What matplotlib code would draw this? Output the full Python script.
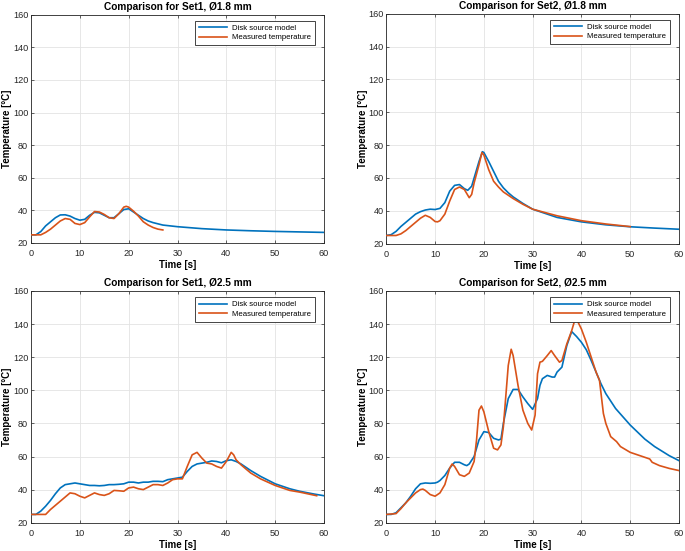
import matplotlib
matplotlib.use("Agg")
import matplotlib.pyplot as plt

plt.rcParams['font.family'] = ['Liberation Sans', 'DejaVu Sans']

BLUE = '#0072BD'
ORANGE = '#D95319'

# ---- Set1, 1.8 mm ----
s1a_t_model = [0, 1, 2, 3, 4, 5, 6, 7, 8, 9, 10, 11, 12, 13, 14, 15, 16, 17, 18, 19, 20, 21, 22, 23, 24, 25, 27, 30, 35, 40, 45, 50, 55, 60]
s1a_model = [25, 25, 27, 30.5, 33, 35.5, 37.2, 37.3, 36.5, 35, 34, 34.5, 37, 38.8, 38.5, 37, 35.5, 35.5, 38, 40.5, 41, 39, 37, 35, 33.5, 32.5, 31, 30, 28.8, 28, 27.5, 27.1, 26.8, 26.5]
s1a_t_meas = [0, 2, 3, 4, 5, 6, 7, 8, 9, 10, 11, 12, 13, 14, 15, 16, 17, 18, 19, 19.5, 20, 21, 22, 23, 24, 25, 26, 27]
s1a_meas = [25, 25, 26.5, 28.5, 31, 33.5, 35, 34.5, 32, 31.3, 32.5, 36, 39.3, 39, 37.5, 35.5, 35, 38, 42, 42.5, 42, 39.5, 36.5, 33, 31, 29.5, 28.5, 28]

# ---- Set2, 1.8 mm ----
s2a_t_model = [0, 1, 2, 3, 4, 5, 6, 7, 8, 9, 10, 11, 12, 13, 14, 15, 16, 16.7, 17.5, 18, 19, 19.7, 20, 21, 22, 23, 24, 25, 26, 28, 30, 35, 40, 45, 50, 55, 60]
s2a_model = [25, 25.5, 27.5, 30.5, 33, 35.5, 38, 39.5, 40.5, 41, 40.8, 41.5, 45, 52, 55.5, 56, 53.5, 52.5, 55, 60, 70, 76, 75.5, 70, 64, 58, 54, 51, 48.5, 44.5, 41, 36, 33.3, 31.5, 30.3, 29.5, 28.8]
s2a_t_meas = [0, 2, 3, 4, 5, 6, 7, 8, 9, 10, 10.5, 11, 12, 13, 14, 15, 16, 17, 17.5, 18, 19, 19.6, 20, 21, 22, 23, 24, 25, 26, 28, 30, 35, 40, 45, 50]
s2a_meas = [25, 25, 26, 28, 30.5, 33, 35.5, 37.3, 36, 33.5, 33.3, 34, 38, 46, 53, 54.5, 53, 48, 50, 57, 68, 75.5, 74, 65, 58, 54.5, 51.5, 49.5, 47.5, 44, 41, 37, 34, 32, 30.4]

# ---- Set1, 2.5 mm ----
s1b_t_model = [0, 1, 2, 3, 4, 5, 6, 7, 8, 9, 10, 11, 12, 13, 14, 15, 16, 17, 18, 19, 20, 21, 22, 23, 24, 25, 26, 27, 28, 29, 30, 31, 32, 33, 34, 35, 36, 37, 38, 39, 40, 41, 42, 43, 44, 45, 47, 50, 53, 55, 58, 60]
s1b_model = [25, 25, 27, 30, 33.5, 37.5, 41, 43, 43.5, 44, 43.5, 43, 42.5, 42.5, 42.3, 42.5, 43, 43, 43.2, 43.5, 44.5, 44.5, 44, 44.5, 44.5, 45, 45, 44.8, 46, 46.5, 47, 47.5, 51, 54, 55.5, 56, 56.5, 57.3, 57, 56.2, 57.5, 58, 57, 55.5, 53.5, 51.5, 48, 43.5, 40.5, 39, 37.3, 36.3]
s1b_t_meas = [0, 1, 3, 4, 5, 6, 7, 8, 9, 10, 11, 12, 13, 14, 15, 16, 17, 18, 19, 20, 21, 22, 23, 24, 25, 26, 27, 28, 29, 30, 31, 32, 33, 34, 35, 36, 37, 38, 39, 40, 41, 41.5, 42, 43, 44, 45, 47, 50, 53, 55, 58.5]
s1b_meas = [25, 25, 25, 28, 30.5, 33, 35.5, 38, 37.5, 36, 35, 36.5, 38, 37, 36.5, 37.5, 39.5, 39.3, 39, 41, 41.5, 40.5, 40, 41.5, 43, 43, 42.5, 44, 46, 46.5, 46.5, 54, 61, 62.5, 59, 56, 55.5, 54, 53, 57, 62.5, 61, 58, 55, 52.5, 50, 46.5, 42.5, 39.5, 38.5, 36.3]

# ---- Set2, 2.5 mm ----
s2b_t_model = [0, 1, 2, 3, 4, 5, 6, 7, 8, 9, 10, 10.5, 11, 12, 13, 14, 15, 16, 16.5, 17, 18, 19, 20, 21, 22, 23, 23.5, 24, 25, 26, 27, 28, 29, 30, 31, 31.5, 32, 33, 34, 34.5, 35, 36, 37, 38, 39, 40, 41, 42, 43, 44, 45, 47, 50, 53, 55, 58, 60]
s2b_model = [25, 25, 26, 29, 32, 36, 40.5, 43.5, 44, 43.8, 44, 44.5, 45.5, 48.5, 53, 56.5, 56.5, 55, 54.5, 55.5, 60, 70, 75, 74.5, 71, 70, 70.5, 80, 95, 100.5, 100.5, 96, 92, 88.5, 95, 103, 107, 109, 108, 108, 111, 114, 127, 135.5, 132.5, 129, 124.5, 118, 111, 104, 98, 89, 79, 70.5, 66, 60.5, 57.5]
s2b_t_meas = [0, 2, 3, 4, 5, 6, 7, 7.5, 8, 9, 10, 11, 12, 13, 13.5, 14, 15, 16, 17, 18, 18.5, 19, 19.5, 20, 21, 22, 22.8, 23.5, 24, 25, 25.6, 26, 27, 28, 29, 29.8, 30.5, 31, 31.5, 32, 33, 33.8, 34.5, 35.5, 36, 37, 38, 38.5, 39, 40, 41, 42, 43, 43.7, 44.5, 45, 46, 47.2, 48, 50, 52, 54, 54.5, 56, 58, 60]
s2b_meas = [25, 25.5, 28.5, 32, 35, 38, 40, 40.3, 39.5, 37, 36, 38, 43, 53, 55.5, 54, 49, 48, 50, 57, 70, 88, 90.5, 87, 75, 65, 64, 67, 78, 115, 124.8, 121, 103, 88, 80, 76, 85, 110, 117, 117.5, 121, 124, 121, 117, 118, 128, 136, 141, 143, 137, 129, 120, 111, 106, 86, 80, 72, 69, 66, 62.5, 60.5, 58.5, 56.5, 54.5, 52.8, 51.5]

titles = ['Comparison for Set1, Ø1.8 mm', 'Comparison for Set2, Ø1.8 mm',
          'Comparison for Set1, Ø2.5 mm', 'Comparison for Set2, Ø2.5 mm']
legend_labels = ['Disk source model', 'Measured temperature']
xticks = [0, 10, 20, 30, 40, 50, 60]
yticks = [20, 40, 60, 80, 100, 120, 140, 160]

panels = [
    (s1a_t_model, s1a_model, s1a_t_meas, s1a_meas),
    (s2a_t_model, s2a_model, s2a_t_meas, s2a_meas),
    (s1b_t_model, s1b_model, s1b_t_meas, s1b_meas),
    (s2b_t_model, s2b_model, s2b_t_meas, s2b_meas),
]

W, H = 685, 551
fig = plt.figure(figsize=(W / 100, H / 100), dpi=100)

# axes boxes in pixels: (left, top, right, bottom)
boxes = [
    (31, 14.7, 324, 243),
    (386.3, 13.7, 679, 243.7),
    (31, 291, 324, 522.7),
    (386.3, 291, 679, 522.7),
]

dark = '#262626'
for i, (box, data, title) in enumerate(zip(boxes, panels, titles)):
    l, t, r, b = box
    ax = fig.add_axes([l / W, 1 - b / H, (r - l) / W, (b - t) / H])
    tm, m, tmeas, meas = data
    ax.plot(tm, m, color=BLUE, lw=1.2, label=legend_labels[0], zorder=3)
    ax.plot(tmeas, meas, color=ORANGE, lw=1.2, label=legend_labels[1], zorder=3)
    ax.set_xlim(0, 60)
    ax.set_ylim(20, 160)
    ax.set_xticks(xticks)
    ax.set_yticks(yticks)
    ax.grid(True, color='#e3e3e3', lw=0.6, zorder=0)
    ax.set_axisbelow(True)
    ax.tick_params(direction='in', length=2.5, width=0.5, labelsize=6.6,
                   colors=dark, top=True, right=True, pad=2)
    ax.tick_params(axis='x', pad=4.5)
    for s in ax.spines.values():
        s.set_linewidth(0.6)
        s.set_color(dark)
    ax.set_title(title, fontsize=7.3, fontweight='bold', pad=3.5)
    ax.set_xlabel('Time [s]', fontsize=7, fontweight='bold', labelpad=1.5)
    ax.set_ylabel('Temperature [°C]', fontsize=7, fontweight='bold')
    ax.yaxis.set_label_coords(-0.064, 0.5)
    leg = ax.legend(loc='upper right', bbox_to_anchor=(0.969, 0.974),
                    borderaxespad=0, fontsize=5.6, frameon=True, fancybox=False,
                    handlelength=3.6, handletextpad=0.6, borderpad=0.5,
                    labelspacing=0.25)
    leg.get_frame().set_edgecolor(dark)
    leg.get_frame().set_linewidth(0.6)
    leg.get_frame().set_alpha(1)
    leg.set_zorder(10)

fig.savefig('out.png', dpi=100)
